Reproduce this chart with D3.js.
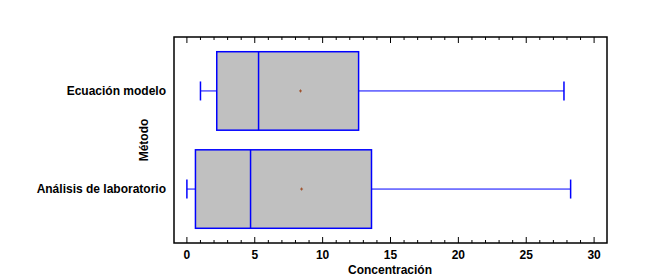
<!DOCTYPE html>
<html>
<head>
<meta charset="utf-8">
<script src="https://cdn.jsdelivr.net/npm/d3@7"></script>
<style>
  body { margin: 0; background: #fff; }
  text { font-family: "Liberation Sans", Arial, sans-serif; font-weight: bold; font-size: 12px; fill: #000; }
</style>
</head>
<body>
<svg id="chart" width="652" height="278"></svg>
<script>
// data
var categories = ["Ecuación modelo", "Análisis de laboratorio"];
var mins    = [1.0, 0.0];
var q1s     = [2.2, 0.63];
var medians = [5.28, 4.69];
var means   = [8.37, 8.45];
var q3s     = [12.65, 13.6];
var maxs    = [27.78, 28.27];
var xTicks  = [0, 5, 10, 15, 20, 25, 30];

var svg = d3.select("#chart");
var plotLeft = 174, plotRight = 607, plotTop = 37, plotBottom = 243;

var x = d3.scaleLinear().domain([-0.95, 30.95]).range([plotLeft, plotRight]);
var y = d3.scalePoint().domain(categories).range([plotTop, plotBottom]).padding(0.55);
var boxH = y.step() * 0.8;
var capH = 19;

// frame
svg.append("rect")
  .attr("x", plotLeft).attr("y", plotTop)
  .attr("width", plotRight - plotLeft).attr("height", plotBottom - plotTop)
  .attr("fill", "none").attr("stroke", "#000").attr("stroke-width", 1.5);

// ticks, bottom and top, pointing inwards
var minor = d3.range(0, 31, 1);
minor.forEach(function(v) {
  var len = (v % 5 === 0) ? 6 : 3;
  svg.append("line")
    .attr("x1", x(v)).attr("x2", x(v))
    .attr("y1", plotBottom).attr("y2", plotBottom - len)
    .attr("stroke", "#000").attr("stroke-width", 1);
  svg.append("line")
    .attr("x1", x(v)).attr("x2", x(v))
    .attr("y1", plotTop).attr("y2", plotTop + len)
    .attr("stroke", "#000").attr("stroke-width", 1);
});

svg.append("g").selectAll("text")
  .data(xTicks)
  .enter().append("text")
  .attr("x", function(d) { return x(d); })
  .attr("y", 259)
  .attr("text-anchor", "middle")
  .text(function(d) { return d; });

// boxes
var rows = categories.map(function(c, i) {
  return { cat: c, min: mins[i], q1: q1s[i], med: medians[i], mean: means[i], q3: q3s[i], max: maxs[i] };
});

var g = svg.append("g").selectAll("g")
  .data(rows)
  .enter().append("g");

g.append("line")
  .attr("x1", function(d) { return x(d.min); })
  .attr("x2", function(d) { return x(d.q1); })
  .attr("y1", function(d) { return y(d.cat); })
  .attr("y2", function(d) { return y(d.cat); })
  .attr("stroke", "#0000ff").attr("stroke-width", 1);
g.append("line")
  .attr("x1", function(d) { return x(d.q3); })
  .attr("x2", function(d) { return x(d.max); })
  .attr("y1", function(d) { return y(d.cat); })
  .attr("y2", function(d) { return y(d.cat); })
  .attr("stroke", "#0000ff").attr("stroke-width", 1);
g.selectAll("line.cap")
  .data(function(d) { return [[d.min, d.cat], [d.max, d.cat]]; })
  .enter().append("line")
  .attr("class", "cap")
  .attr("x1", function(d) { return x(d[0]); })
  .attr("x2", function(d) { return x(d[0]); })
  .attr("y1", function(d) { return y(d[1]) - capH / 2; })
  .attr("y2", function(d) { return y(d[1]) + capH / 2; })
  .attr("stroke", "#0000ff").attr("stroke-width", 1.5);

g.append("rect")
  .attr("x", function(d) { return x(d.q1); })
  .attr("y", function(d) { return y(d.cat) - boxH / 2; })
  .attr("width", function(d) { return x(d.q3) - x(d.q1); })
  .attr("height", boxH)
  .attr("fill", "#c0c0c0").attr("stroke", "#0000ff").attr("stroke-width", 1.5);

g.append("line")
  .attr("x1", function(d) { return x(d.med); })
  .attr("x2", function(d) { return x(d.med); })
  .attr("y1", function(d) { return y(d.cat) - boxH / 2; })
  .attr("y2", function(d) { return y(d.cat) + boxH / 2; })
  .attr("stroke", "#0000ff").attr("stroke-width", 1.5);

// mean marker, small plus
g.append("path")
  .attr("d", function(d) {
    var cx = x(d.mean), cy = y(d.cat);
    return "M" + (cx - 1.5) + "," + cy + "H" + (cx + 1.5) + "M" + cx + "," + (cy - 1.5) + "V" + (cy + 1.5);
  })
  .attr("stroke", "#a0522d").attr("stroke-width", 1);

// category labels
svg.append("g").selectAll("text")
  .data(categories)
  .enter().append("text")
  .attr("x", 166)
  .attr("y", function(d) { return y(d) + 4; })
  .attr("text-anchor", "end")
  .text(function(d) { return d; });

// axis titles
svg.append("text")
  .attr("x", 390).attr("y", 274)
  .attr("text-anchor", "middle")
  .text("Concentración");
svg.append("text")
  .attr("transform", "translate(148,140) rotate(-90)")
  .attr("text-anchor", "middle")
  .text("Método");
</script>
</body>
</html>
